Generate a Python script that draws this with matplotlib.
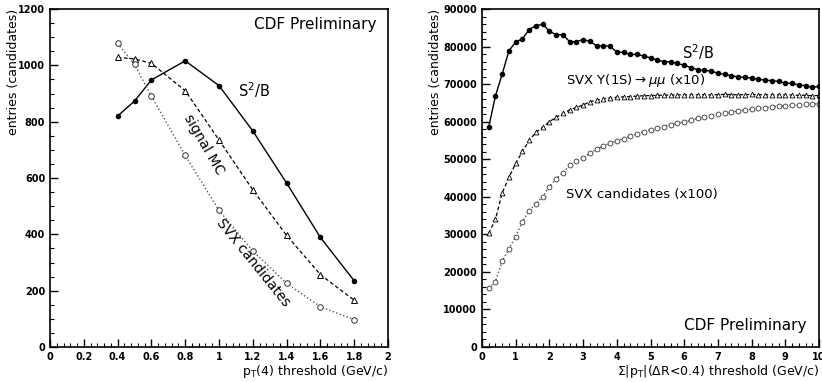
import matplotlib
matplotlib.use("Agg")
import matplotlib.pyplot as plt
from matplotlib.ticker import MultipleLocator

# ---- left panel data ----
pt_thr = [0.4, 0.5, 0.6, 0.8, 1.0, 1.2, 1.4, 1.6, 1.8]
left_s2b = [820, 873, 948, 1016, 928, 767, 582, 389, 235]
left_signal = [1028, 1023, 1007, 910, 735, 558, 396, 257, 166]
left_svx = [1078, 1003, 891, 680, 485, 341, 226, 143, 97]

# ---- right panel data ----
iso_thr = [0.2, 0.4, 0.6, 0.8, 1.0, 1.2, 1.4, 1.6, 1.8, 2.0,
           2.2, 2.4, 2.6, 2.8, 3.0, 3.2, 3.4, 3.6, 3.8, 4.0,
           4.2, 4.4, 4.6, 4.8, 5.0, 5.2, 5.4, 5.6, 5.8, 6.0,
           6.2, 6.4, 6.6, 6.8, 7.0, 7.2, 7.4, 7.6, 7.8, 8.0,
           8.2, 8.4, 8.6, 8.8, 9.0, 9.2, 9.4, 9.6, 9.8, 10.0]
right_s2b = [58580, 66900, 72700, 78900, 81200, 82100, 84500, 85600, 85900, 84100,
             83150, 83150, 81300, 81300, 81850, 81400, 80200, 80200, 80100, 78550,
             78450, 77900, 77900, 77500, 77000, 76400, 75950, 75950, 75500, 75000,
             74400, 73850, 73650, 73500, 72900, 72600, 72240, 71900, 71800, 71600,
             71300, 71050, 70950, 70700, 70300, 70200, 69750, 69600, 69150, 69400]
right_signal = [30270, 34000, 41080, 45150, 48900, 52100, 55000, 57150, 58500, 60000,
                61150, 62200, 63100, 63800, 64430, 65300, 65760, 66100, 66300, 66500,
                66600, 66700, 66800, 66900, 66950, 67000, 67100, 67050, 67150, 67100,
                67200, 67150, 67200, 67100, 67200, 67250, 67200, 67150, 67200, 67250,
                67200, 67150, 67200, 67100, 67150, 67100, 67000, 67050, 66900, 67000]
right_svx = [15680, 17440, 22900, 26100, 29400, 33400, 36270, 38100, 40050, 42720,
             44850, 46400, 48330, 49400, 50380, 51600, 52670, 53560, 54270, 54870,
             55500, 56100, 56740, 57360, 57800, 58250, 58700, 59150, 59600, 59930,
             60380, 60920, 61270, 61600, 61950, 62250, 62550, 62850, 63100, 63350,
             63550, 63750, 63950, 64100, 64250, 64400, 64500, 64600, 64700, 64800]

plt.rcParams['font.family'] = ['DejaVu Sans']
W, H = 822, 382
fig = plt.figure(figsize=(W / 100, H / 100), dpi=100)

def style_axes(ax):
    for s in ax.spines.values():
        s.set_linewidth(1.2)
    ax.tick_params(which='both', direction='in', top=False, right=False,
                   labelsize=7)
    ax.tick_params(which='major', length=6, width=1.0)
    ax.tick_params(which='minor', length=3, width=0.8)
    for lab in ax.get_xticklabels() + ax.get_yticklabels():
        lab.set_fontweight('bold')

def place_labels(ax, ylab_x):
    ax.xaxis.set_label_coords(1.0, -0.048)
    ax.xaxis.label.set_va('top')
    ax.yaxis.set_label_coords(ylab_x, 1.0)
    ax.yaxis.label.set_va('center')

# ---- left panel ----
axL = fig.add_axes([50 / W, 35 / H, 338 / W, 338 / H])
axL.plot(pt_thr, left_s2b, '-', color='black', lw=1.0, marker='o', ms=3,
         mfc='black', mec='black')
axL.plot(pt_thr, left_signal, '--', color='black', lw=0.9, marker='^', ms=4,
         mfc='white', mec='black', mew=0.7, dashes=(3, 2))
axL.plot(pt_thr, left_svx, ':', color='#555555', lw=1.0, marker='o', ms=4,
         mfc='white', mec='#333333', mew=0.7)
axL.set_xlim(0, 2)
axL.set_ylim(0, 1200)
axL.xaxis.set_minor_locator(MultipleLocator(0.04))
axL.yaxis.set_major_locator(MultipleLocator(200))
axL.yaxis.set_minor_locator(MultipleLocator(50))
axL.set_xticks([0, 0.2, 0.4, 0.6, 0.8, 1, 1.2, 1.4, 1.6, 1.8, 2])
axL.set_xticklabels(['0', '0.2', '0.4', '0.6', '0.8', '1', '1.2', '1.4', '1.6', '1.8', '2'])
style_axes(axL)
axL.set_xlabel(r'p$_{\rm T}$(4) threshold (GeV/c)', fontsize=9, loc='right')
axL.set_ylabel('entries (candidates)', fontsize=9, loc='top')
place_labels(axL, -0.107)
axL.text(0.965, 0.953, 'CDF Preliminary', transform=axL.transAxes, ha='right',
         va='center', fontsize=11)
axL.text(1.11, 912, r'S$^2$/B', fontsize=10.5, ha='left', va='center')
axL.text(0.91, 718, 'signal MC', fontsize=10, rotation=-60, ha='center', va='center')
axL.text(1.2, 298, 'SVX candidates', fontsize=10, rotation=-51, ha='center', va='center')

# ---- right panel ----
axR = fig.add_axes([482 / W, 35 / H, 337 / W, 338 / H])
axR.plot(iso_thr, right_s2b, '-', color='black', lw=1.0, marker='o', ms=3,
         mfc='black', mec='black')
axR.plot(iso_thr, right_signal, '--', color='black', lw=0.9, marker='^', ms=3.5,
         mfc='white', mec='black', mew=0.6, dashes=(3, 2))
axR.plot(iso_thr, right_svx, ':', color='#555555', lw=1.0, marker='o', ms=3.5,
         mfc='white', mec='#333333', mew=0.6)
axR.set_xlim(0, 10)
axR.set_ylim(0, 90000)
axR.xaxis.set_major_locator(MultipleLocator(1))
axR.xaxis.set_minor_locator(MultipleLocator(0.2))
axR.yaxis.set_major_locator(MultipleLocator(10000))
axR.yaxis.set_minor_locator(MultipleLocator(2000))
style_axes(axR)
axR.set_xlabel(r'$\Sigma$|p$_{\rm T}$|($\Delta$R<0.4) threshold (GeV/c)', fontsize=9,
               loc='right')
axR.set_ylabel('entries (candidates)', fontsize=9, loc='top')
place_labels(axR, -0.137)
axR.text(0.964, 0.065, 'CDF Preliminary', transform=axR.transAxes, ha='right',
         va='center', fontsize=11)
axR.text(5.93, 78600, r'S$^2$/B', fontsize=10.5, ha='left', va='center')
axR.text(2.5, 71000, r'SVX $\Upsilon$(1S)$\rightarrow\mu\mu$ (x10)', fontsize=9.5,
         ha='left', va='center')
axR.text(2.5, 40700, 'SVX candidates (x100)', fontsize=9.5, ha='left', va='center')

fig.savefig('out.png', dpi=100)
